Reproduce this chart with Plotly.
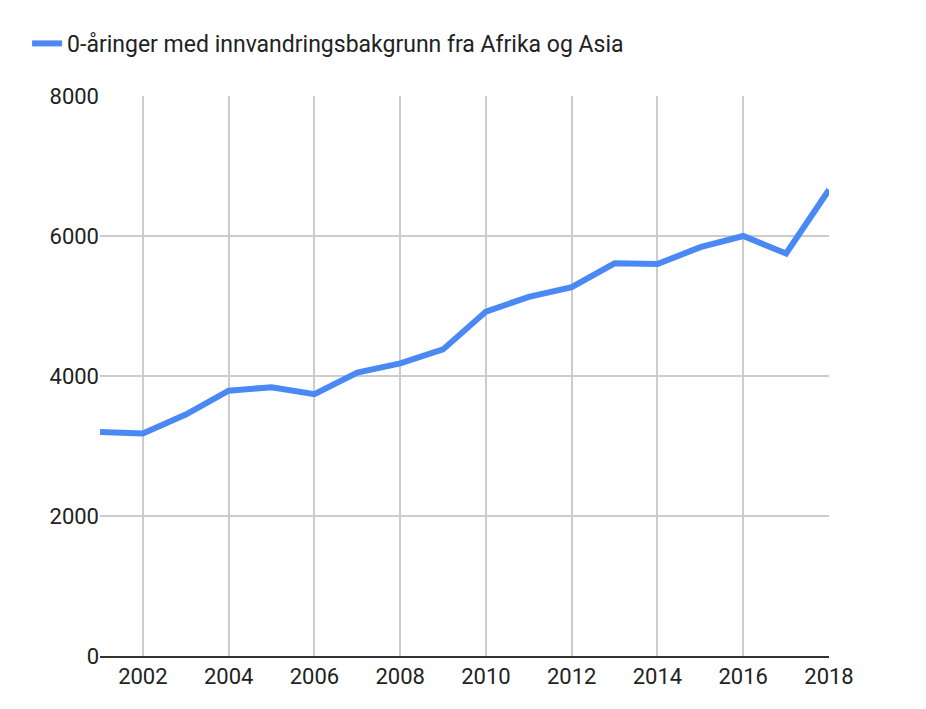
import plotly.graph_objects as go

years = list(range(2001, 2019))
values = [3200, 3180, 3450, 3790, 3840, 3740, 4050, 4180, 4380, 4920,
          5130, 5270, 5610, 5600, 5840, 6000, 5750, 6660]
x_ticks = [2002, 2004, 2006, 2008, 2010, 2012, 2014, 2016, 2018]
y_ticks = [0, 2000, 4000, 6000, 8000]

fig = go.Figure()
fig.add_trace(go.Scatter(
    x=years, y=values, mode="lines",
    name="0-åringer med innvandringsbakgrunn fra Afrika og Asia",
    line=dict(color="#4a89f3", width=6),
))

fig.update_layout(
    width=926, height=709,
    margin=dict(l=92, r=105, t=88, b=61, autoexpand=False),
    paper_bgcolor="white", plot_bgcolor="white",
    font=dict(family="Roboto, sans-serif", size=22, color="#222"),
    showlegend=True,
    legend=dict(orientation="h", yref="container", xref="paper",
                x=-0.1, xanchor="left", y=0.95, yanchor="middle",
                font=dict(size=23), itemwidth=30),
)
fig.update_xaxes(range=[2001, 2018], tickvals=x_ticks, showgrid=True,
                 gridcolor="#cccccc", gridwidth=1.5, showline=True,
                 linecolor="#333", linewidth=1.5, zeroline=False, ticks="",
                 automargin=False)
fig.update_yaxes(range=[0, 8000], tickvals=y_ticks, showgrid=True,
                 gridcolor="#cccccc", gridwidth=1.5, zeroline=False,
                 showline=False, ticks="", automargin=False)

fig.write_html("out.html")
